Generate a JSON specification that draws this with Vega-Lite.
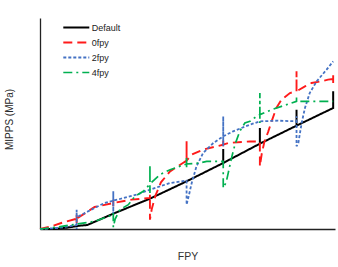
{
"$schema":"https://vega.github.io/schema/vega-lite/v6.json",
"width":295,"height":211,
"autosize":{"type":"none"},
"padding":{"left":40,"top":18,"right":3,"bottom":38},
"background":"white",
"config":{"view":{"stroke":null},"font":"Liberation Sans"},
"data":{"values":[
{"s":"Default","i":0,"x":0,"y":0},{"s":"Default","i":1,"x":0.36,"y":0},{"s":"Default","i":2,"x":0.73,"y":0.4},{"s":"Default","i":3,"x":1.09,"y":1.0},{"s":"Default","i":4,"x":1.29,"y":1.2},{"s":"Default","i":5,"x":2,"y":4.6},{"s":"Default","i":6,"x":3,"y":9.1},{"s":"Default","i":7,"x":4,"y":14.3},{"s":"Default","i":8,"x":5,"y":19.8},{"s":"Default","i":9,"x":5,"y":24.0},{"s":"Default","i":10,"x":5,"y":19.8},{"s":"Default","i":11,"x":6,"y":25.6},{"s":"Default","i":12,"x":6,"y":30.3},{"s":"Default","i":13,"x":6,"y":25.6},{"s":"Default","i":14,"x":7,"y":31.0},{"s":"Default","i":15,"x":7,"y":35.8},{"s":"Default","i":16,"x":7,"y":31.0},{"s":"Default","i":17,"x":8,"y":36.3},{"s":"Default","i":18,"x":8,"y":41.3},
{"s":"0fpy","i":0,"x":0,"y":0},{"s":"0fpy","i":1,"x":0.31,"y":0.8},{"s":"0fpy","i":2,"x":0.58,"y":1.8},{"s":"0fpy","i":3,"x":1,"y":3.1},{"s":"0fpy","i":4,"x":1,"y":4.3},{"s":"0fpy","i":5,"x":1,"y":1.8},{"s":"0fpy","i":6,"x":1,"y":3.1},{"s":"0fpy","i":7,"x":1.49,"y":6.6},{"s":"0fpy","i":8,"x":2,"y":7.8},{"s":"0fpy","i":9,"x":2,"y":8.8},{"s":"0fpy","i":10,"x":2,"y":6.8},{"s":"0fpy","i":11,"x":2,"y":7.8},{"s":"0fpy","i":12,"x":2.5,"y":8.8},{"s":"0fpy","i":13,"x":3,"y":9.3},{"s":"0fpy","i":14,"x":3,"y":10.3},{"s":"0fpy","i":15,"x":3,"y":2.8},{"s":"0fpy","i":16,"x":3.05,"y":6},{"s":"0fpy","i":17,"x":3.15,"y":10},{"s":"0fpy","i":18,"x":3.3,"y":14},{"s":"0fpy","i":19,"x":3.55,"y":17.3},{"s":"0fpy","i":20,"x":3.9,"y":19.8},{"s":"0fpy","i":21,"x":4,"y":20.5},{"s":"0fpy","i":22,"x":4,"y":26.3},{"s":"0fpy","i":23,"x":4,"y":20.5},{"s":"0fpy","i":24,"x":4.14,"y":22.3},{"s":"0fpy","i":25,"x":4.45,"y":23.8},{"s":"0fpy","i":26,"x":5,"y":25.3},{"s":"0fpy","i":27,"x":5,"y":26.8},{"s":"0fpy","i":28,"x":5,"y":24.8},{"s":"0fpy","i":29,"x":5,"y":25.3},{"s":"0fpy","i":30,"x":5.14,"y":25.8},{"s":"0fpy","i":31,"x":5.73,"y":26.3},{"s":"0fpy","i":32,"x":6,"y":26.2},{"s":"0fpy","i":33,"x":6,"y":18.8},{"s":"0fpy","i":34,"x":6.05,"y":22.5},{"s":"0fpy","i":35,"x":6.12,"y":26},{"s":"0fpy","i":36,"x":6.23,"y":29.3},{"s":"0fpy","i":37,"x":6.32,"y":32.3},{"s":"0fpy","i":38,"x":6.45,"y":36.3},{"s":"0fpy","i":39,"x":6.59,"y":38.8},{"s":"0fpy","i":40,"x":6.82,"y":40.8},{"s":"0fpy","i":41,"x":7,"y":41.3},{"s":"0fpy","i":42,"x":7,"y":47.3},{"s":"0fpy","i":43,"x":7,"y":41.3},{"s":"0fpy","i":44,"x":7.23,"y":42.8},{"s":"0fpy","i":45,"x":7.41,"y":43.8},{"s":"0fpy","i":46,"x":7.68,"y":44.3},{"s":"0fpy","i":47,"x":7.86,"y":44.8},{"s":"0fpy","i":48,"x":8,"y":45},{"s":"0fpy","i":49,"x":8,"y":46.3},{"s":"0fpy","i":50,"x":8,"y":43.8},
{"s":"2fpy","i":0,"x":0,"y":0},{"s":"2fpy","i":1,"x":0.5,"y":0.3},{"s":"2fpy","i":2,"x":1,"y":1.2},{"s":"2fpy","i":3,"x":1,"y":5.8},{"s":"2fpy","i":4,"x":1,"y":0},{"s":"2fpy","i":5,"x":1,"y":3.5},{"s":"2fpy","i":6,"x":1.4,"y":5.8},{"s":"2fpy","i":7,"x":1.76,"y":7.8},{"s":"2fpy","i":8,"x":2,"y":8.5},{"s":"2fpy","i":9,"x":2,"y":11.3},{"s":"2fpy","i":10,"x":2,"y":4.5},{"s":"2fpy","i":11,"x":2,"y":8.5},{"s":"2fpy","i":12,"x":2.18,"y":9},{"s":"2fpy","i":13,"x":2.64,"y":10.3},{"s":"2fpy","i":14,"x":3,"y":11.8},{"s":"2fpy","i":15,"x":3.55,"y":13.8},{"s":"2fpy","i":16,"x":4,"y":14.5},{"s":"2fpy","i":17,"x":4,"y":7.3},{"s":"2fpy","i":18,"x":4.05,"y":9.5},{"s":"2fpy","i":19,"x":4.14,"y":13.8},{"s":"2fpy","i":20,"x":4.27,"y":18.8},{"s":"2fpy","i":21,"x":4.45,"y":22.8},{"s":"2fpy","i":22,"x":4.73,"y":25.8},{"s":"2fpy","i":23,"x":5,"y":27.8},{"s":"2fpy","i":24,"x":5,"y":33.8},{"s":"2fpy","i":25,"x":5,"y":24.8},{"s":"2fpy","i":26,"x":5,"y":27.8},{"s":"2fpy","i":27,"x":5.27,"y":29.3},{"s":"2fpy","i":28,"x":5.73,"y":31.3},{"s":"2fpy","i":29,"x":6,"y":32.3},{"s":"2fpy","i":30,"x":6.5,"y":32.5},{"s":"2fpy","i":31,"x":7,"y":32.3},{"s":"2fpy","i":32,"x":7,"y":33.8},{"s":"2fpy","i":33,"x":7,"y":24.8},{"s":"2fpy","i":34,"x":7.05,"y":25.8},{"s":"2fpy","i":35,"x":7.14,"y":31.8},{"s":"2fpy","i":36,"x":7.23,"y":36.3},{"s":"2fpy","i":37,"x":7.36,"y":40.8},{"s":"2fpy","i":38,"x":7.55,"y":44.3},{"s":"2fpy","i":39,"x":7.82,"y":47.8},{"s":"2fpy","i":40,"x":8,"y":50.3},
{"s":"4fpy","i":0,"x":0,"y":0},{"s":"4fpy","i":1,"x":0.5,"y":0.6},{"s":"4fpy","i":2,"x":1,"y":1.5},{"s":"4fpy","i":3,"x":1.5,"y":2.3},{"s":"4fpy","i":4,"x":2,"y":4.3},{"s":"4fpy","i":5,"x":2,"y":4.8},{"s":"4fpy","i":6,"x":2,"y":0.5},{"s":"4fpy","i":7,"x":2.05,"y":3},{"s":"4fpy","i":8,"x":2.18,"y":5.8},{"s":"4fpy","i":9,"x":2.41,"y":7.3},{"s":"4fpy","i":10,"x":2.59,"y":9.8},{"s":"4fpy","i":11,"x":2.82,"y":11.3},{"s":"4fpy","i":12,"x":3,"y":13.5},{"s":"4fpy","i":13,"x":3,"y":19.3},{"s":"4fpy","i":14,"x":3,"y":10.8},{"s":"4fpy","i":15,"x":3,"y":13.5},{"s":"4fpy","i":16,"x":3.27,"y":16.3},{"s":"4fpy","i":17,"x":3.55,"y":17.8},{"s":"4fpy","i":18,"x":4,"y":19.5},{"s":"4fpy","i":19,"x":4,"y":21.3},{"s":"4fpy","i":20,"x":4,"y":18.3},{"s":"4fpy","i":21,"x":4,"y":19.5},{"s":"4fpy","i":22,"x":4.36,"y":19.8},{"s":"4fpy","i":23,"x":4.55,"y":20.3},{"s":"4fpy","i":24,"x":5,"y":20.3},{"s":"4fpy","i":25,"x":5,"y":12.3},{"s":"4fpy","i":26,"x":5.08,"y":14},{"s":"4fpy","i":27,"x":5.14,"y":17},{"s":"4fpy","i":28,"x":5.23,"y":21.5},{"s":"4fpy","i":29,"x":5.32,"y":25.3},{"s":"4fpy","i":30,"x":5.45,"y":29.3},{"s":"4fpy","i":31,"x":5.59,"y":31.8},{"s":"4fpy","i":32,"x":5.73,"y":32.3},{"s":"4fpy","i":33,"x":5.91,"y":33.8},{"s":"4fpy","i":34,"x":6,"y":34.3},{"s":"4fpy","i":35,"x":6,"y":40.8},{"s":"4fpy","i":36,"x":6,"y":31.8},{"s":"4fpy","i":37,"x":6,"y":34.3},{"s":"4fpy","i":38,"x":6.32,"y":35.8},{"s":"4fpy","i":39,"x":6.59,"y":36.8},{"s":"4fpy","i":40,"x":7,"y":38.3},{"s":"4fpy","i":41,"x":7,"y":39.8},{"s":"4fpy","i":42,"x":7,"y":38.3},{"s":"4fpy","i":43,"x":8,"y":38.3}
]},
"encoding":{
"x":{"field":"x","type":"quantitative","scale":{"domain":[0,8.05],"nice":false,"zero":false},
"axis":{"title":"FPY","labels":false,"ticks":false,"grid":false,"domainColor":"#222","domainWidth":1.3,"titleFontSize":10.5,"titleFontWeight":"normal","titleColor":"#333","titleY":27,"titleBaseline":"middle"}},
"y":{"field":"y","type":"quantitative","scale":{"domain":[0,63.3],"nice":false},
"axis":{"title":"MIPPS (MPa)","labels":false,"ticks":false,"grid":false,"domainColor":"#222","domainWidth":1.3,"titleFontSize":10,"titleFontWeight":"normal","titleColor":"#2a2a2a","titleX":-30.5,"titleY":101,"titleBaseline":"middle","titleAlign":"center","titleAngle":-90}},
"order":{"field":"i","type":"quantitative"},
"color":{"field":"s","type":"nominal","scale":{"domain":["Default","0fpy","2fpy","4fpy"],"range":["#000000","#ff1a1a","#4472c4","#00b050"]},
"legend":{"title":null,"orient":"none","legendX":28.8,"legendY":2,"symbolType":"M-2,0H2","symbolSize":169,"symbolStrokeWidth":1.8,"rowPadding":2,"labelFontSize":9,"labelOffset":8,"labelColor":"#222","padding":0}},
"strokeDash":{"field":"s","type":"nominal","scale":{"domain":["Default","0fpy","2fpy","4fpy"],"range":[[1,0],[9,5],[3,2],[9,4,2,4]]},
"legend":{"title":null,"orient":"none","legendX":28.8,"legendY":2,"symbolType":"M-2,0H2","symbolSize":169,"symbolStrokeWidth":1.8,"rowPadding":2,"labelFontSize":9,"labelOffset":8,"labelColor":"#222","padding":0}},
"strokeWidth":{"field":"s","type":"nominal","scale":{"domain":["Default","0fpy","2fpy","4fpy"],"range":[2,1.7,1.7,1.7]},"legend":null}
},
"layer":[
{"transform":[{"filter":"datum.s === 'Default'"}],"mark":{"type":"line","interpolate":"linear","strokeCap":"butt"}},
{"transform":[{"filter":"datum.s !== 'Default'"}],"mark":{"type":"line","interpolate":"linear","strokeCap":"butt"}}
]
}
